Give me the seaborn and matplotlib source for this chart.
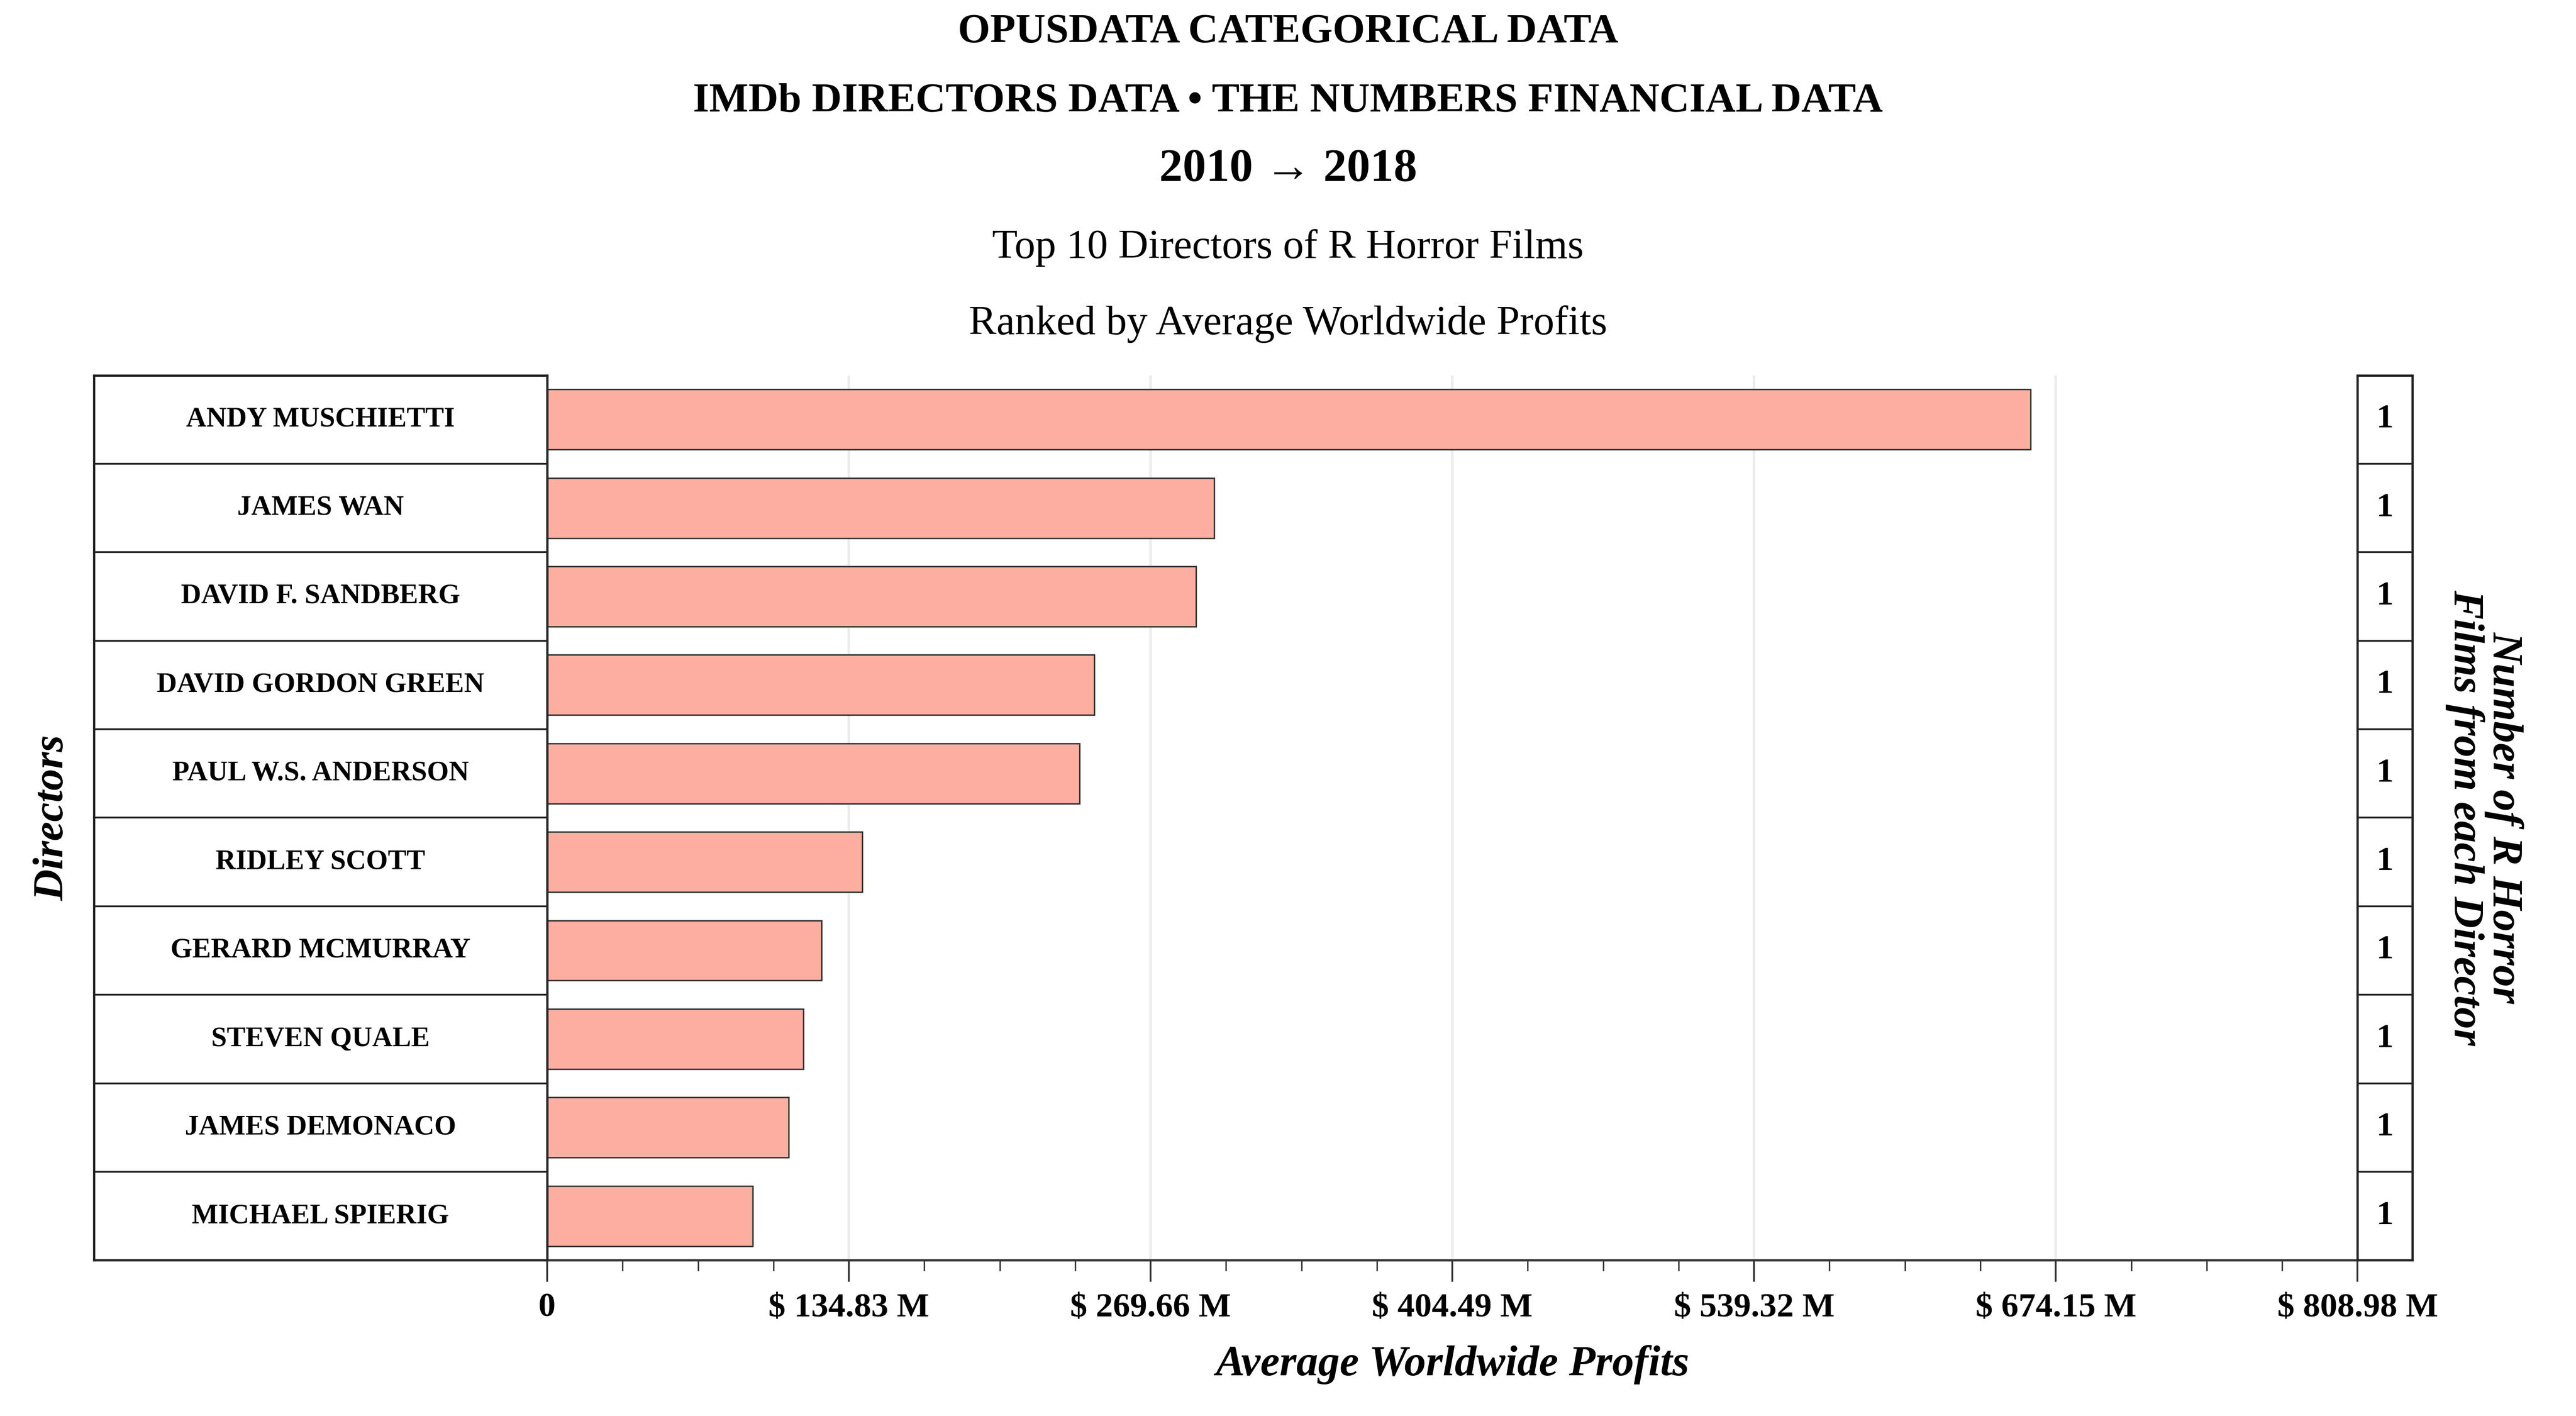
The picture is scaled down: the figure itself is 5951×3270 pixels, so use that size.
import numpy as np
import pandas as pd
import matplotlib
matplotlib.use("Agg")
import matplotlib.pyplot as plt
import seaborn as sns
from matplotlib.ticker import MultipleLocator

directors = ["Andy Muschietti", "James Wan", "David F. Sandberg", "David Gordon Green",
             "Paul W.S. Anderson", "Ridley Scott", "Gerard McMurray", "Steven Quale",
             "James DeMonaco", "Michael Spierig"]
profits = [662.9, 298.0, 290.0, 244.4, 237.9, 140.9, 122.6, 114.5, 107.9, 91.8]
film_counts = [1, 1, 1, 1, 1, 1, 1, 1, 1, 1]
tick_values = [0, 134.83, 269.66, 404.49, 539.32, 674.15, 808.98]

sns.set_theme(style="white")
plt.rcParams['font.family'] = ['Liberation Serif', 'DejaVu Serif']
plt.rcParams['text.color'] = 'black'
plt.rcParams['axes.labelcolor'] = 'black'
plt.rcParams['xtick.color'] = 'black'

df = pd.DataFrame({"director": directors, "profit": profits})

fig = plt.figure(figsize=(5951 / 300, 3270 / 300), dpi=300)
ax = fig.add_axes([0.2124, 0.110, 0.7028, 0.625])
names_ax = fig.add_axes([0.0364, 0.110, 0.176, 0.625], sharey=ax)
count_ax = fig.add_axes([0.9152, 0.110, 0.0212, 0.625], sharey=ax)

sns.barplot(data=df, x="profit", y="director", ax=ax, color="#FCAFA0",
            edgecolor="#333333", linewidth=0.8, width=0.68, saturation=1)
ax.set_xlim(0, tick_values[-1])
ax.set_xticks(tick_values)
ax.set_xticklabels(["0"] + [f"$ {v:.2f} M" for v in tick_values[1:]], fontsize=19, fontweight="bold")
ax.xaxis.set_minor_locator(MultipleLocator(tick_values[1] / 4))
ax.tick_params(axis="x", which="major", length=12, width=1, color="#333333", direction="out", bottom=True, pad=6)
ax.tick_params(axis="x", which="minor", length=6, width=0.8, color="#333333", direction="out", bottom=True)
ax.grid(axis="x", color="#ececec", linewidth=1.5)
ax.set_axisbelow(True)
ax.set_yticks([])
ax.set_ylabel("")
ax.set_xlabel("Average Worldwide Profits", fontsize=24, fontstyle="italic", fontweight="bold", labelpad=12)
for s in ["top", "right"]:
    ax.spines[s].set_visible(False)
ax.spines["left"].set_color("#333333")
ax.spines["bottom"].set_color("#333333")

# name table
names_ax.set_xlim(0, 1)
for i, name in enumerate(directors):
    names_ax.axhline(i + 0.5, color="#222222", linewidth=1)
    names_ax.text(0.5, i, name.upper(), ha="center", va="center", fontsize=15.5, fontweight="bold")
names_ax.set_xticks([])
names_ax.tick_params(left=False, labelleft=False)
names_ax.set_ylabel("Directors", fontsize=24, fontstyle="italic", fontweight="bold", labelpad=12)
for s in names_ax.spines.values():
    s.set_color("#222222")

# count column
count_ax.set_xlim(0, 1)
for i, c in enumerate(film_counts):
    count_ax.axhline(i + 0.5, color="#222222", linewidth=1)
    count_ax.text(0.5, i, str(c), ha="center", va="center", fontsize=19, fontweight="bold")
count_ax.set_xticks([])
count_ax.tick_params(left=False, labelleft=False)
for s in count_ax.spines.values():
    s.set_color("#222222")
count_ax.yaxis.set_label_position("right")
count_ax.set_ylabel("Number of R Horror\nFilms from each Director", fontsize=24, fontstyle="italic",
                    fontweight="bold", rotation=270, labelpad=62, linespacing=1.0)
ax.set_ylim(len(directors) - 0.5, -0.5)

fig.text(0.5, 0.977, "OPUSDATA CATEGORICAL DATA", ha="center", va="center", fontsize=23, fontweight="bold")
fig.text(0.5, 0.928, "IMDb DIRECTORS DATA \u2022 THE NUMBERS FINANCIAL DATA", ha="center", va="center",
         fontsize=23, fontweight="bold")
fig.text(0.5, 0.880, "2010 \u2192 2018", ha="center", va="center", fontsize=26, fontweight="bold")
fig.text(0.5, 0.825, "Top 10 Directors of R Horror Films", ha="center", va="center", fontsize=23)
fig.text(0.5, 0.771, "Ranked by Average Worldwide Profits", ha="center", va="center", fontsize=23)

fig.savefig("out.png", dpi=300)
